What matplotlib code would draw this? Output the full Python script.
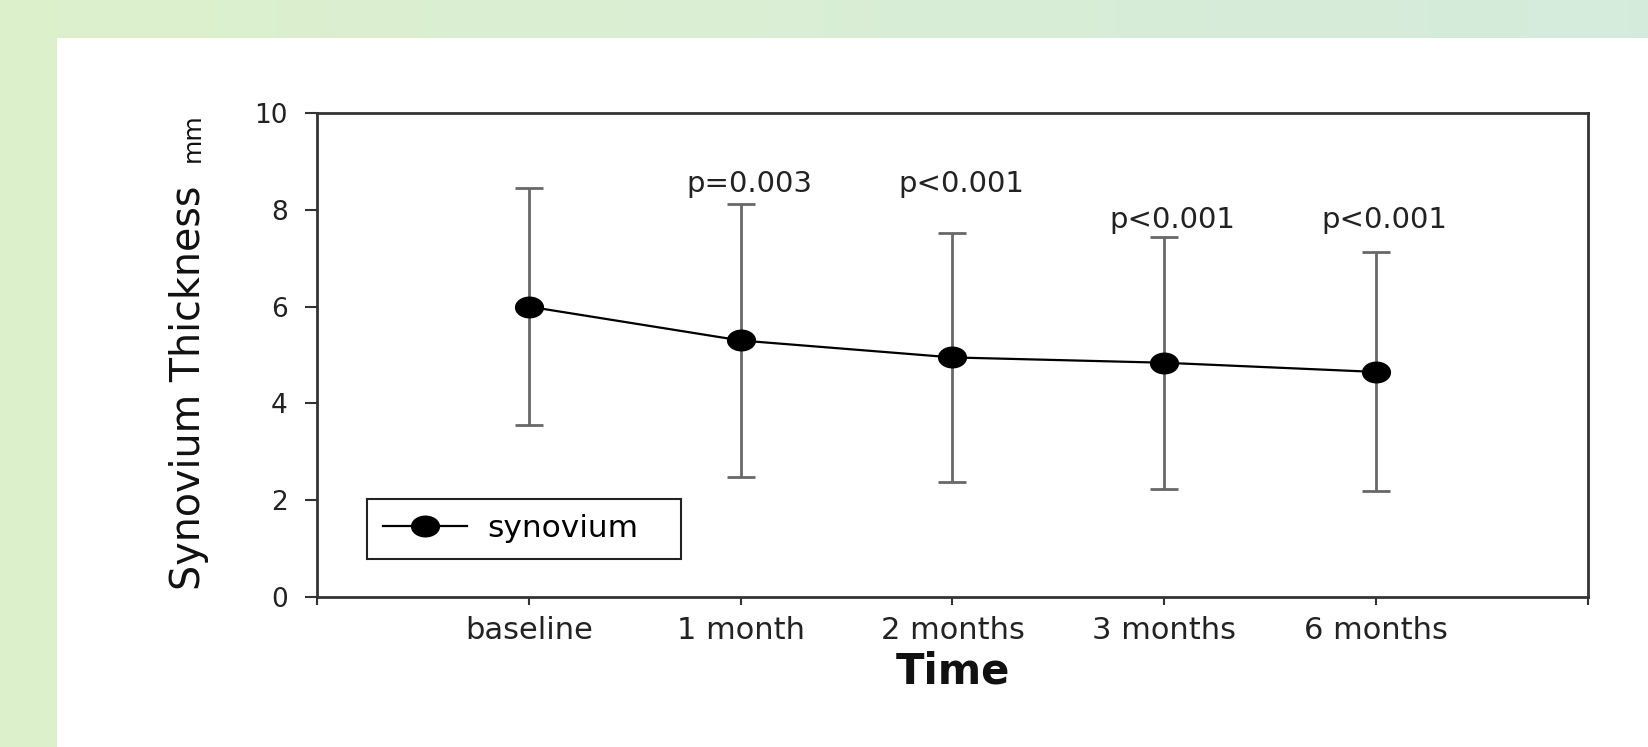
# synovium thickness over time (mean +/- SD)
import numpy as np
import matplotlib
matplotlib.use('Agg')
import matplotlib.pyplot as plt
from matplotlib.patches import Rectangle
from matplotlib.path import Path

plt.rcParams['font.family'] = ['DejaVu Sans']

time_labels = ['baseline', '1 month', '2 months', '3 months', '6 months']
thickness_mean = [6.00, 5.30, 4.95, 4.84, 4.65]
thickness_sd = [2.45, 2.82, 2.57, 2.60, 2.47]
p_labels = ['p=0.003', 'p<0.001', 'p<0.001', 'p<0.001']
p_label_y = [8.37, 8.37, 7.62, 7.62]

W, H = 1649, 747
fig = plt.figure(figsize=(W / 100, H / 100), dpi=100)
fig.patch.set_facecolor('white')

# slide background: green strips on top and left
bg = fig.add_axes([0, 0, 1, 1], zorder=-10)
bg.set_xlim(0, W)
bg.set_ylim(H, 0)
bg.axis('off')
c0 = np.array([0.867, 0.945, 0.804])
c1 = np.array([0.835, 0.922, 0.863])
grad = np.linspace(0, 1, 256)[None, :, None]
bg.imshow(c0 + (c1 - c0) * grad, extent=(0, W, 38, 0), aspect='auto')
bg.add_patch(Rectangle((0, 0), 57, H, color='#dcf0cb', lw=0))

# the source image is stretched sideways, so the dots are ovals
circ = Path.unit_circle()
oval = Path(circ.vertices * [1.35, 1.0], circ.codes)

ax = fig.add_axes([317 / W, 1 - 597 / H, (1588 - 317) / W, (597 - 113) / H])
x = np.arange(len(time_labels))

ax.errorbar(x, thickness_mean, yerr=thickness_sd, fmt='none', ecolor='#686868',
            elinewidth=2, capsize=10, capthick=2, zorder=2)
ax.plot(x, thickness_mean, '-', color='black', lw=1.6, marker=oval, ms=20,
        mec='black', mfc='black', label='synovium', zorder=3)

for i, (lab, ly) in enumerate(zip(p_labels, p_label_y)):
    ax.text(x[i + 1] + 0.04, ly, lab, ha='center', va='baseline', fontsize=21,
            color='#222222')

ax.set_xlim(-1, 5)
ax.set_ylim(0, 10)
ax.set_xticks(np.arange(-1, 6))
ax.set_xticklabels([''] + time_labels + [''])
ax.set_yticks(np.arange(0, 11, 2))
ax.tick_params(axis='x', direction='out', length=6, width=1.5, pad=8,
               labelsize=22, colors='#333333', labelcolor='#222222')
ax.tick_params(axis='y', direction='out', length=9, width=1.5, pad=12,
               labelsize=19, colors='#333333', labelcolor='#222222')
for s in ax.spines.values():
    s.set_linewidth(2)
    s.set_color('#333333')

ax.set_xlabel('Time', fontsize=30, fontweight='bold', labelpad=4, color='#111111')

fig.text(200 / W, 1 - 590 / H, 'Synovium Thickness', rotation=90,
         rotation_mode='anchor', ha='left', va='baseline', fontsize=28.5,
         color='#111111')
fig.text(200 / W, 1 - 162 / H, 'mm', rotation=90, rotation_mode='anchor',
         ha='left', va='baseline', fontsize=18, color='#111111')

leg = ax.legend(loc='lower left', bbox_to_anchor=(0.0393, 0.0785, 0.2471, 0.14),
                mode='expand', fontsize=22.5, handlelength=2.7, handletextpad=0.65,
                borderpad=0.5, borderaxespad=0, fancybox=False, framealpha=1)
leg.get_frame().set_edgecolor('#222222')
leg.get_frame().set_linewidth(1.5)

fig.savefig('out.png', dpi=100)
